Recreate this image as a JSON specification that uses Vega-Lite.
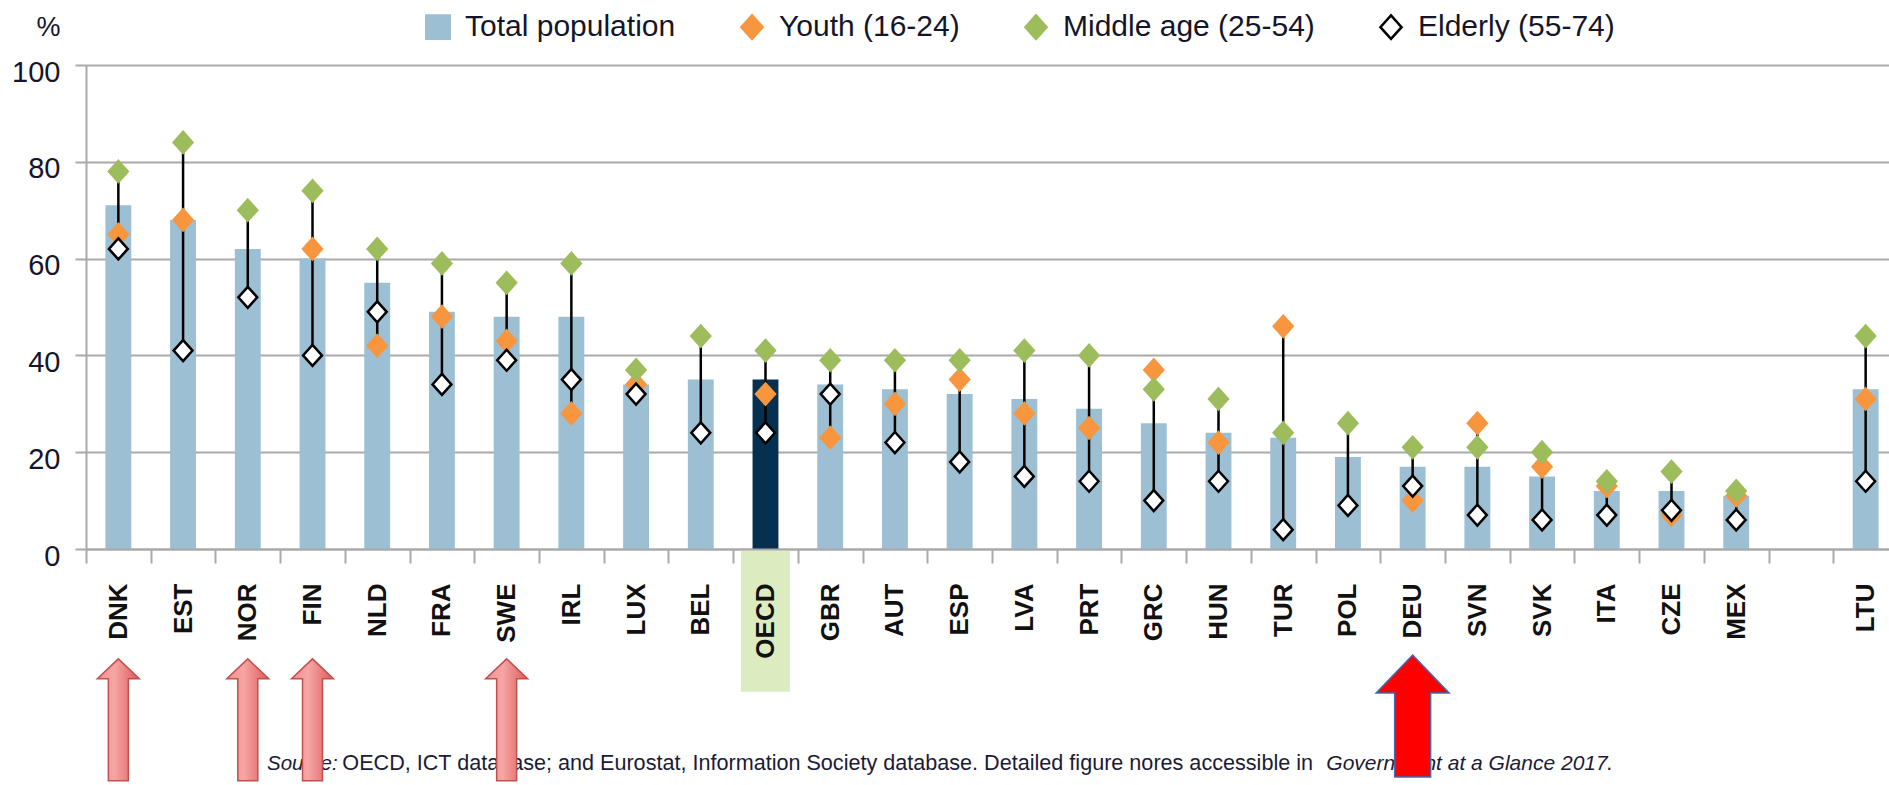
{
  "$schema": "https://vega.github.io/schema/vega-lite/v6.json",
  "width": 1803,
  "height": 484,
  "autosize": {"type": "none"},
  "padding": {"left": 86, "top": 65, "right": 0, "bottom": 236},
  "background": "#ffffff",
  "config": {
    "view": {"stroke": null},
    "font": "Liberation Sans",
    "legend": {"labelFont": "Liberation Sans", "labelFontSize": 30, "labelColor": "#15152a", "padding": 0, "symbolStrokeWidth": 2.5, "labelLimit": 600}
  },
  "datasets": {
    "egov": [
      {"country": "DNK", "group": "Total population", "value": 71},
      {"country": "DNK", "group": "Youth (16-24)", "value": 65},
      {"country": "DNK", "group": "Middle age (25-54)", "value": 78},
      {"country": "DNK", "group": "Elderly (55-74)", "value": 62},
      {"country": "EST", "group": "Total population", "value": 68},
      {"country": "EST", "group": "Youth (16-24)", "value": 68},
      {"country": "EST", "group": "Middle age (25-54)", "value": 84},
      {"country": "EST", "group": "Elderly (55-74)", "value": 41},
      {"country": "NOR", "group": "Total population", "value": 62},
      {"country": "NOR", "group": "Middle age (25-54)", "value": 70},
      {"country": "NOR", "group": "Elderly (55-74)", "value": 52},
      {"country": "FIN", "group": "Total population", "value": 60},
      {"country": "FIN", "group": "Youth (16-24)", "value": 62},
      {"country": "FIN", "group": "Middle age (25-54)", "value": 74},
      {"country": "FIN", "group": "Elderly (55-74)", "value": 40},
      {"country": "NLD", "group": "Total population", "value": 55},
      {"country": "NLD", "group": "Youth (16-24)", "value": 42},
      {"country": "NLD", "group": "Middle age (25-54)", "value": 62},
      {"country": "NLD", "group": "Elderly (55-74)", "value": 49},
      {"country": "FRA", "group": "Total population", "value": 49},
      {"country": "FRA", "group": "Youth (16-24)", "value": 48},
      {"country": "FRA", "group": "Middle age (25-54)", "value": 59},
      {"country": "FRA", "group": "Elderly (55-74)", "value": 34},
      {"country": "SWE", "group": "Total population", "value": 48},
      {"country": "SWE", "group": "Youth (16-24)", "value": 43},
      {"country": "SWE", "group": "Middle age (25-54)", "value": 55},
      {"country": "SWE", "group": "Elderly (55-74)", "value": 39},
      {"country": "IRL", "group": "Total population", "value": 48},
      {"country": "IRL", "group": "Youth (16-24)", "value": 28},
      {"country": "IRL", "group": "Middle age (25-54)", "value": 59},
      {"country": "IRL", "group": "Elderly (55-74)", "value": 35},
      {"country": "LUX", "group": "Total population", "value": 34},
      {"country": "LUX", "group": "Youth (16-24)", "value": 34},
      {"country": "LUX", "group": "Middle age (25-54)", "value": 37},
      {"country": "LUX", "group": "Elderly (55-74)", "value": 32},
      {"country": "BEL", "group": "Total population", "value": 35},
      {"country": "BEL", "group": "Middle age (25-54)", "value": 44},
      {"country": "BEL", "group": "Elderly (55-74)", "value": 24},
      {"country": "OECD", "group": "Total population", "value": 35},
      {"country": "OECD", "group": "Youth (16-24)", "value": 32},
      {"country": "OECD", "group": "Middle age (25-54)", "value": 41},
      {"country": "OECD", "group": "Elderly (55-74)", "value": 24},
      {"country": "GBR", "group": "Total population", "value": 34},
      {"country": "GBR", "group": "Youth (16-24)", "value": 23},
      {"country": "GBR", "group": "Middle age (25-54)", "value": 39},
      {"country": "GBR", "group": "Elderly (55-74)", "value": 32},
      {"country": "AUT", "group": "Total population", "value": 33},
      {"country": "AUT", "group": "Youth (16-24)", "value": 30},
      {"country": "AUT", "group": "Middle age (25-54)", "value": 39},
      {"country": "AUT", "group": "Elderly (55-74)", "value": 22},
      {"country": "ESP", "group": "Total population", "value": 32},
      {"country": "ESP", "group": "Youth (16-24)", "value": 35},
      {"country": "ESP", "group": "Middle age (25-54)", "value": 39},
      {"country": "ESP", "group": "Elderly (55-74)", "value": 18},
      {"country": "LVA", "group": "Total population", "value": 31},
      {"country": "LVA", "group": "Youth (16-24)", "value": 28},
      {"country": "LVA", "group": "Middle age (25-54)", "value": 41},
      {"country": "LVA", "group": "Elderly (55-74)", "value": 15},
      {"country": "PRT", "group": "Total population", "value": 29},
      {"country": "PRT", "group": "Youth (16-24)", "value": 25},
      {"country": "PRT", "group": "Middle age (25-54)", "value": 40},
      {"country": "PRT", "group": "Elderly (55-74)", "value": 14},
      {"country": "GRC", "group": "Total population", "value": 26},
      {"country": "GRC", "group": "Youth (16-24)", "value": 37},
      {"country": "GRC", "group": "Middle age (25-54)", "value": 33},
      {"country": "GRC", "group": "Elderly (55-74)", "value": 10},
      {"country": "HUN", "group": "Total population", "value": 24},
      {"country": "HUN", "group": "Youth (16-24)", "value": 22},
      {"country": "HUN", "group": "Middle age (25-54)", "value": 31},
      {"country": "HUN", "group": "Elderly (55-74)", "value": 14},
      {"country": "TUR", "group": "Total population", "value": 23},
      {"country": "TUR", "group": "Youth (16-24)", "value": 46},
      {"country": "TUR", "group": "Middle age (25-54)", "value": 24},
      {"country": "TUR", "group": "Elderly (55-74)", "value": 4},
      {"country": "POL", "group": "Total population", "value": 19},
      {"country": "POL", "group": "Middle age (25-54)", "value": 26},
      {"country": "POL", "group": "Elderly (55-74)", "value": 9},
      {"country": "DEU", "group": "Total population", "value": 17},
      {"country": "DEU", "group": "Youth (16-24)", "value": 10},
      {"country": "DEU", "group": "Middle age (25-54)", "value": 21},
      {"country": "DEU", "group": "Elderly (55-74)", "value": 13},
      {"country": "SVN", "group": "Total population", "value": 17},
      {"country": "SVN", "group": "Youth (16-24)", "value": 26},
      {"country": "SVN", "group": "Middle age (25-54)", "value": 21},
      {"country": "SVN", "group": "Elderly (55-74)", "value": 7},
      {"country": "SVK", "group": "Total population", "value": 15},
      {"country": "SVK", "group": "Youth (16-24)", "value": 17},
      {"country": "SVK", "group": "Middle age (25-54)", "value": 20},
      {"country": "SVK", "group": "Elderly (55-74)", "value": 6},
      {"country": "ITA", "group": "Total population", "value": 12},
      {"country": "ITA", "group": "Youth (16-24)", "value": 13},
      {"country": "ITA", "group": "Middle age (25-54)", "value": 14},
      {"country": "ITA", "group": "Elderly (55-74)", "value": 7},
      {"country": "CZE", "group": "Total population", "value": 12},
      {"country": "CZE", "group": "Youth (16-24)", "value": 7},
      {"country": "CZE", "group": "Middle age (25-54)", "value": 16},
      {"country": "CZE", "group": "Elderly (55-74)", "value": 8},
      {"country": "MEX", "group": "Total population", "value": 11},
      {"country": "MEX", "group": "Youth (16-24)", "value": 11},
      {"country": "MEX", "group": "Middle age (25-54)", "value": 12},
      {"country": "MEX", "group": "Elderly (55-74)", "value": 6},
      {"country": "LTU", "group": "Total population", "value": 33},
      {"country": "LTU", "group": "Youth (16-24)", "value": 31},
      {"country": "LTU", "group": "Middle age (25-54)", "value": 44},
      {"country": "LTU", "group": "Elderly (55-74)", "value": 14}
    ]
  },
  "layer": [
    {
      "data": {"name": "egov"},
      "transform": [{"filter": "datum.group === 'Total population'"}],
      "mark": {"type": "bar", "width": {"band": 0.4}},
      "encoding": {
        "x": {
          "field": "country", "type": "nominal",
          "scale": {"type": "band", "domain": ["DNK","EST","NOR","FIN","NLD","FRA","SWE","IRL","LUX","BEL","OECD","GBR","AUT","ESP","LVA","PRT","GRC","HUN","TUR","POL","DEU","SVN","SVK","ITA","CZE","MEX"," ","LTU"], "range": [0, 1812], "paddingInner": 0, "paddingOuter": 0},
          "axis": {"title": null, "labelAngle": 270, "labelAlign": "right", "labelBaseline": "middle", "labelFont": "Liberation Sans", "labelFontWeight": "bold", "labelFontSize": 26, "labelColor": "#111111", "labelPadding": 20, "labelOverlap": false, "tickBand": "extent", "tickSize": 14, "tickColor": "#a9a9a9", "tickWidth": 2, "domainColor": "#a9a9a9", "domainWidth": 2, "grid": false, "zindex": 1}
        },
        "y": {
          "field": "value", "type": "quantitative",
          "scale": {"domain": [0, 100]},
          "axis": {"title": "%", "titleAngle": 0, "titleX": -38, "titleY": -38, "titleAlign": "center", "titleBaseline": "middle", "titleFont": "Liberation Sans", "titleFontSize": 27, "titleFontWeight": "normal", "titleColor": "#15152a", "values": [0, 20, 40, 60, 80, 100], "grid": true, "gridColor": "#a9a9a9", "gridWidth": 2, "domain": true, "domainColor": "#a9a9a9", "domainWidth": 2, "ticks": true, "tickSize": 11, "tickColor": "#a9a9a9", "tickWidth": 2, "labelFont": "Liberation Sans", "labelFontSize": 29, "labelColor": "#15152a", "labelPadding": 15, "labelOffset": 7, "zindex": 0}
        },
        "fill": {
          "condition": {"test": "datum.country === 'OECD'", "value": "#05304f"},
          "field": "group", "type": "nominal",
          "scale": {"domain": ["Total population", "Youth (16-24)", "Middle age (25-54)", "Elderly (55-74)"], "range": ["#9dbfd3", "#f7963f", "#9dbd5c", "#ffffff"]},
          "legend": {"title": null, "orient": "none", "legendX": 337, "legendY": -53, "direction": "horizontal", "columnPadding": 60, "labelOffset": 12, "symbolSize": 552, "symbolStrokeWidth": 2.5, "labelFontSize": 30, "labelLimit": 600, "labelExpr": "datum.label === 'Middle age (25-54)' ? datum.label + '      ' : datum.label"}
        }
      }
    },
    {
      "data": {"values": [{}]},
      "mark": {"type": "bar", "color": "#dcebc0", "width": {"band": 0.76}},
      "encoding": {
        "x": {"datum": "OECD", "type": "nominal"},
        "y": {"datum": 0, "type": "quantitative"},
        "y2": {"datum": -29.5}
      }
    },
    {
      "data": {"name": "egov"},
      "transform": [{"filter": "datum.group !== 'Total population'"}],
      "mark": {"type": "rule", "color": "#000000", "strokeWidth": 2.5},
      "encoding": {
        "x": {"field": "country", "type": "nominal"},
        "y": {"aggregate": "min", "field": "value", "type": "quantitative"},
        "y2": {"aggregate": "max", "field": "value"}
      }
    },
    {
      "data": {"name": "egov"},
      "transform": [{"filter": "datum.group !== 'Total population'"}],
      "mark": {"type": "point", "filled": true, "strokeWidth": 2.5, "opacity": 1},
      "encoding": {
        "x": {"field": "country", "type": "nominal"},
        "y": {"field": "value", "type": "quantitative"},
        "fill": {
          "field": "group", "type": "nominal",
          "scale": {"domain": ["Total population", "Youth (16-24)", "Middle age (25-54)", "Elderly (55-74)"], "range": ["#9dbfd3", "#f7963f", "#9dbd5c", "#ffffff"]},
          "legend": {"title": null, "orient": "none", "legendX": 337, "legendY": -53, "direction": "horizontal", "columnPadding": 60, "labelOffset": 12, "symbolSize": 552, "symbolStrokeWidth": 2.5, "labelFontSize": 30, "labelLimit": 600, "labelExpr": "datum.label === 'Middle age (25-54)' ? datum.label + '      ' : datum.label"}
        },
        "stroke": {
          "field": "group", "type": "nominal",
          "scale": {"domain": ["Total population", "Youth (16-24)", "Middle age (25-54)", "Elderly (55-74)"], "range": ["#9dbfd3", "#f7963f", "#9dbd5c", "#000000"]},
          "legend": {"title": null, "orient": "none", "legendX": 337, "legendY": -53, "direction": "horizontal", "columnPadding": 60, "labelOffset": 12, "symbolSize": 552, "symbolStrokeWidth": 2.5, "labelFontSize": 30, "labelLimit": 600, "labelExpr": "datum.label === 'Middle age (25-54)' ? datum.label + '      ' : datum.label"}
        },
        "shape": {
          "field": "group", "type": "nominal",
          "scale": {"domain": ["Total population", "Youth (16-24)", "Middle age (25-54)", "Elderly (55-74)"], "range": ["square", "M0,-1L0.9,0L0,1L-0.9,0Z", "M0,-1L0.9,0L0,1L-0.9,0Z", "M0,-1L0.9,0L0,1L-0.9,0Z"]},
          "legend": {"title": null, "orient": "none", "legendX": 337, "legendY": -53, "direction": "horizontal", "columnPadding": 60, "labelOffset": 12, "symbolSize": 552, "symbolStrokeWidth": 2.5, "labelFontSize": 30, "labelLimit": 600, "labelExpr": "datum.label === 'Middle age (25-54)' ? datum.label + '      ' : datum.label"}
        },
        "size": {
          "field": "group", "type": "ordinal",
          "scale": {"domain": ["Youth (16-24)", "Middle age (25-54)", "Elderly (55-74)"], "range": [440, 440, 740]},
          "legend": null
        }
      }
    },
    {
      "data": {"values": [{}]},
      "mark": {"type": "text", "text": "Source:", "font": "Liberation Sans", "fontStyle": "italic", "fontSize": 20.5, "align": "left", "baseline": "alphabetic", "dx": 148.6, "color": "#1b1b35"},
      "encoding": {
        "x": {"datum": "DNK", "type": "nominal"},
        "y": {"datum": -45.7, "type": "quantitative"}
      }
    },
    {
      "data": {"values": [{}]},
      "mark": {"type": "text", "text": "OECD, ICT database; and Eurostat, Information Society database. Detailed figure nores accessible in", "font": "Liberation Sans", "fontSize": 21.6, "align": "left", "baseline": "alphabetic", "dx": 224, "color": "#1b1b35"},
      "encoding": {
        "x": {"datum": "DNK", "type": "nominal"},
        "y": {"datum": -45.7, "type": "quantitative"}
      }
    },
    {
      "data": {"values": [{}]},
      "mark": {"type": "text", "text": "Government at a Glance 2017", "font": "Liberation Sans", "fontStyle": "italic", "fontSize": 21, "align": "left", "baseline": "alphabetic", "dx": 1208, "color": "#1b1b35"},
      "encoding": {
        "x": {"datum": "DNK", "type": "nominal"},
        "y": {"datum": -45.7, "type": "quantitative"}
      }
    },
    {
      "data": {"values": [{}]},
      "mark": {"type": "text", "text": ".", "font": "Liberation Sans", "fontSize": 21.5, "align": "left", "baseline": "alphabetic", "dx": 1488, "color": "#1b1b35"},
      "encoding": {
        "x": {"datum": "DNK", "type": "nominal"},
        "y": {"datum": -45.7, "type": "quantitative"}
      }
    },
    {
      "data": {"values": [{"country": "DNK"}, {"country": "NOR"}, {"country": "FIN"}, {"country": "SWE"}]},
      "mark": {"type": "point", "shape": "M0,0L1,0.95L0.476,0.95L0.476,5.8L-0.476,5.8L-0.476,0.95L-1,0.95Z", "size": 1764, "filled": true, "opacity": 1, "fill": {"gradient": "linear", "x1": 0, "y1": 0, "x2": 1, "y2": 0, "stops": [{"offset": 0, "color": "#f08e8e"}, {"offset": 0.4, "color": "#f6a6a5"}, {"offset": 1, "color": "#dc5a5a"}]}, "stroke": "#c0504d", "strokeWidth": 1.5},
      "encoding": {
        "x": {"field": "country", "type": "nominal"},
        "y": {"datum": -22.7, "type": "quantitative"}
      }
    },
    {
      "data": {"values": [{"country": "DEU"}]},
      "mark": {"type": "point", "shape": "M0,0L1,1.04L0.493,1.04L0.493,3.34L-0.493,3.34L-0.493,1.04L-1,1.04Z", "size": 5329, "filled": true, "opacity": 1, "fill": "#ff0000", "stroke": "#3d6cb5", "strokeWidth": 1.5},
      "encoding": {
        "x": {"field": "country", "type": "nominal"},
        "y": {"datum": -21.9, "type": "quantitative"}
      }
    }
  ]
}
